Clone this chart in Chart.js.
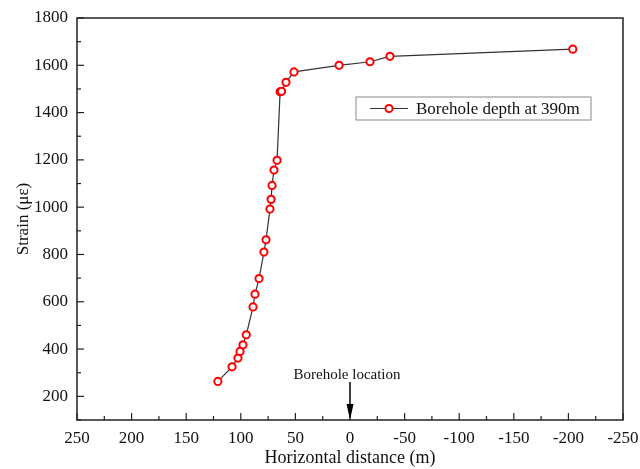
<!DOCTYPE html>
<html>
<head>
<meta charset="utf-8">
<script src="https://cdn.jsdelivr.net/npm/chart.js@4.4.1/dist/chart.umd.min.js"></script>
<style>
  html, body { margin: 0; padding: 0; background: #fff; }
  #wrap { width: 640px; height: 469px; }
</style>
</head>
<body>
<div id="wrap"><canvas id="myChart"></canvas></div>
<script>
// horizontal distance (m) and strain (με)
const distance = [121, 108, 102.6, 100.7, 98, 95, 88.8, 87, 83.3, 78.8, 76.9, 73.3, 72.3, 71.4, 69.6, 66.8, 64, 62.7, 58.6, 51.3, 10, -18.3, -36.6, -204];
const strain = [263, 325, 362, 390, 418, 460, 578, 632, 698, 810, 862, 992, 1033, 1092, 1157, 1198, 1488, 1490, 1528, 1572, 1600, 1615, 1638, 1668];
const seriesName = 'Borehole depth at 390m';
const xLabel = 'Horizontal distance (m)';
const yLabel = 'Strain (\u03bc\u03b5)';
const markerText = 'Borehole location';

const points = distance.map((d, i) => ({ x: d, y: strain[i] }));
const serif = '"Liberation Serif", "Times New Roman", serif';

// frame, inward ticks, borehole arrow and boxed legend
const decorations = {
  id: 'decorations',
  afterDraw(chart) {
    const { ctx, chartArea: a } = chart;
    const xs = chart.scales.x, ys = chart.scales.y;
    ctx.save();
    ctx.strokeStyle = '#222';
    ctx.lineWidth = 1.5;
    ctx.strokeRect(a.left, a.top, a.right - a.left, a.bottom - a.top);

    ctx.lineWidth = 1.2;
    xs.ticks.forEach(t => {
      const px = xs.getPixelForValue(t.value);
      const len = t.value % 50 === 0 ? 7 : 4;
      ctx.beginPath();
      ctx.moveTo(px, a.bottom);
      ctx.lineTo(px, a.bottom - len);
      ctx.stroke();
    });
    ys.ticks.forEach(t => {
      const py = ys.getPixelForValue(t.value);
      const len = t.value % 200 === 0 ? 7 : 4;
      ctx.beginPath();
      ctx.moveTo(a.left, py);
      ctx.lineTo(a.left + len, py);
      ctx.stroke();
    });

    // arrow at the borehole
    const x0 = xs.getPixelForValue(0);
    ctx.strokeStyle = '#000';
    ctx.fillStyle = '#000';
    ctx.lineWidth = 1.5;
    ctx.beginPath();
    ctx.moveTo(x0, a.bottom - 38);
    ctx.lineTo(x0, a.bottom - 12);
    ctx.stroke();
    ctx.beginPath();
    ctx.moveTo(x0 - 3.5, a.bottom - 16);
    ctx.lineTo(x0 + 3.5, a.bottom - 16);
    ctx.lineTo(x0, a.bottom);
    ctx.closePath();
    ctx.fill();
    ctx.font = '15px ' + serif;
    ctx.textAlign = 'center';
    ctx.textBaseline = 'alphabetic';
    ctx.fillStyle = '#111';
    ctx.fillText(markerText, x0 - 3, a.bottom - 41);

    // legend box
    const lx = 356, ly = 97, lw = 235, lh = 23;
    ctx.strokeStyle = '#888';
    ctx.lineWidth = 1;
    ctx.strokeRect(lx, ly, lw, lh);
    const my = ly + lh / 2;
    ctx.strokeStyle = '#333';
    ctx.lineWidth = 1.2;
    ctx.beginPath();
    ctx.moveTo(lx + 14, my);
    ctx.lineTo(lx + 52, my);
    ctx.stroke();
    ctx.beginPath();
    ctx.arc(lx + 33, my, 3.6, 0, Math.PI * 2);
    ctx.fillStyle = '#fff';
    ctx.fill();
    ctx.strokeStyle = '#f00';
    ctx.lineWidth = 2;
    ctx.stroke();
    ctx.fillStyle = '#111';
    ctx.font = '17px ' + serif;
    ctx.textAlign = 'left';
    ctx.textBaseline = 'middle';
    ctx.fillText(seriesName, lx + 60, my + 1);
    ctx.restore();
  }
};

const ctx1 = document.getElementById('myChart').getContext('2d');

new Chart(ctx1, {
  type: 'scatter',
  data: {
    datasets: [{
      label: seriesName,
      data: points,
      showLine: true,
      borderColor: '#333',
      borderWidth: 1.2,
      pointRadius: 3.6,
      pointBorderWidth: 2,
      pointBorderColor: '#f00',
      pointBackgroundColor: '#fff'
    }]
  },
  options: {
    responsive: true,
    maintainAspectRatio: false,
    animation: false,
    layout: { padding: { left: 0, right: 17, top: 18, bottom: 0 } },
    plugins: {
      legend: { display: false },
      tooltip: { enabled: false }
    },
    scales: {
      x: {
        type: 'linear',
        min: -250,
        max: 250,
        reverse: true,
        afterFit: s => { s.height = 49; s.paddingLeft = 0; s.paddingRight = 0; },
        ticks: {
          stepSize: 25,
          autoSkip: false,
          maxRotation: 0,
          padding: 8,
          color: '#111',
          font: { family: serif, size: 17 },
          callback: v => (v % 50 === 0 ? v : '')
        },
        grid: { display: false, drawTicks: false },
        border: { display: false },
        title: {
          display: true,
          text: xLabel,
          color: '#111',
          font: { family: serif, size: 18 },
          padding: { top: 0, bottom: 0 }
        }
      },
      y: {
        min: 100,
        max: 1800,
        afterFit: s => { s.width = 77; s.paddingTop = 0; s.paddingBottom = 0; },
        ticks: {
          stepSize: 100,
          autoSkip: false,
          padding: 9,
          color: '#111',
          font: { family: serif, size: 17 },
          callback: v => (v % 200 === 0 ? v : '')
        },
        grid: { display: false, drawTicks: false },
        border: { display: false },
        title: {
          display: true,
          text: yLabel,
          color: '#111',
          font: { family: serif, size: 17 },
          padding: { top: 13, bottom: 4 }
        }
      }
    }
  },
  plugins: [decorations]
});
</script>
</body>
</html>
